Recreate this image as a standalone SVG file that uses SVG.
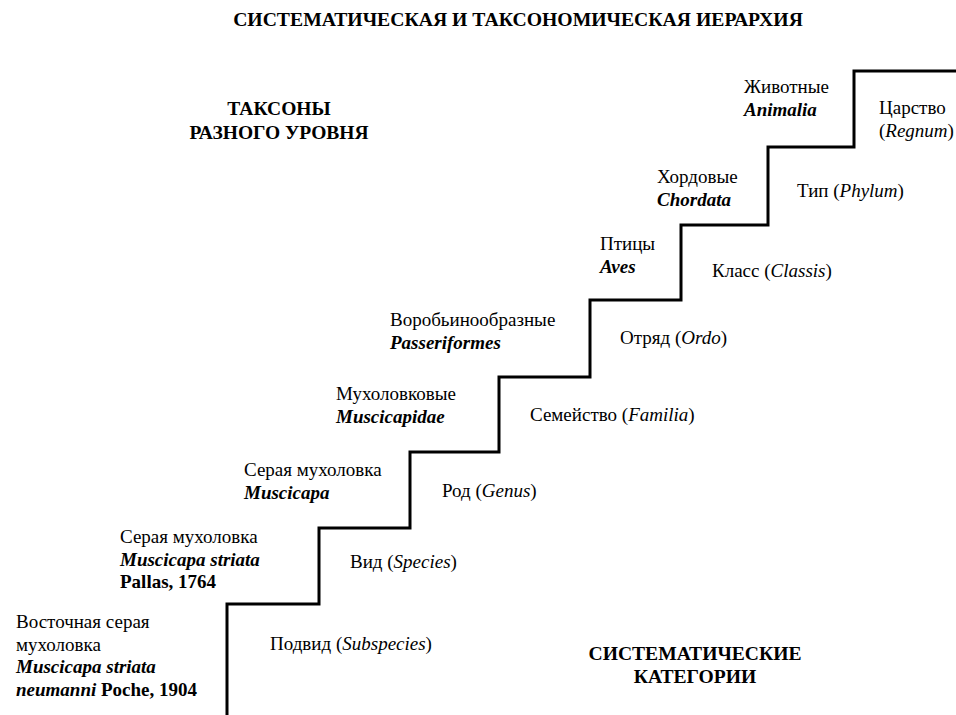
<svg xmlns="http://www.w3.org/2000/svg" width="956" height="715" viewBox="0 0 956 715">
<rect width="956" height="715" fill="#fff"/>
<g id="connectors">
<path d="M227,715 V604 H319 V528 H410 V452 H499 V377 H590 V300 H681 V225 H768 V147 H854 V71 H956" fill="none" stroke="#000" stroke-width="3"/>
</g>
<g id="title"><text font-family="Liberation Serif" font-size="19.7" font-weight="bold" text-anchor="middle" x="518" y="26">СИСТЕМАТИЧЕСКАЯ И ТАКСОНОМИЧЕСКАЯ ИЕРАРХИЯ</text></g>
<g id="taxa-heading"><text font-family="Liberation Serif" font-size="19.5" font-weight="bold" text-anchor="middle" x="279" y="115">ТАКСОНЫ</text><text font-family="Liberation Serif" font-size="19.5" font-weight="bold" text-anchor="middle" x="279" y="139">РАЗНОГО УРОВНЯ</text></g>
<g id="categories-heading"><text font-family="Liberation Serif" font-size="19.6" font-weight="bold" text-anchor="middle" x="695" y="660">СИСТЕМАТИЧЕСКИЕ</text><text font-family="Liberation Serif" font-size="19.6" font-weight="bold" text-anchor="middle" x="695" y="683">КАТЕГОРИИ</text></g>
<g id="animalia"><text font-family="Liberation Serif" font-size="19" x="744" y="93">Животные</text><text font-family="Liberation Serif" font-size="19" font-weight="bold" font-style="italic" x="744" y="116">Animalia</text></g>
<g id="regnum"><text font-family="Liberation Serif" font-size="19" x="879" y="114">Царство</text><text font-family="Liberation Serif" font-size="19" x="879" y="137">(<tspan font-style="italic">Regnum</tspan>)</text></g>
<g id="chordata"><text font-family="Liberation Serif" font-size="19" x="657" y="183">Хордовые</text><text font-family="Liberation Serif" font-size="19" font-weight="bold" font-style="italic" x="657" y="206">Chordata</text></g>
<g id="phylum"><text font-family="Liberation Serif" font-size="19" x="797" y="197">Тип (<tspan font-style="italic">Phylum</tspan>)</text></g>
<g id="aves"><text font-family="Liberation Serif" font-size="19" x="600" y="250">Птицы</text><text font-family="Liberation Serif" font-size="19" font-weight="bold" font-style="italic" x="600" y="273">Aves</text></g>
<g id="classis"><text font-family="Liberation Serif" font-size="19" x="712" y="277">Класс (<tspan font-style="italic">Classis</tspan>)</text></g>
<g id="passeriformes"><text font-family="Liberation Serif" font-size="19" x="390" y="326">Воробьинообразные</text><text font-family="Liberation Serif" font-size="19" font-weight="bold" font-style="italic" x="390" y="349">Passeriformes</text></g>
<g id="ordo"><text font-family="Liberation Serif" font-size="19" x="620" y="344">Отряд (<tspan font-style="italic">Ordo</tspan>)</text></g>
<g id="muscicapidae"><text font-family="Liberation Serif" font-size="19" x="336" y="400">Мухоловковые</text><text font-family="Liberation Serif" font-size="19" font-weight="bold" font-style="italic" x="336" y="423">Muscicapidae</text></g>
<g id="familia"><text font-family="Liberation Serif" font-size="19" x="530" y="421">Семейство (<tspan font-style="italic">Familia</tspan>)</text></g>
<g id="muscicapa"><text font-family="Liberation Serif" font-size="19" x="244" y="476">Серая мухоловка</text><text font-family="Liberation Serif" font-size="19" font-weight="bold" font-style="italic" x="244" y="499">Muscicapa</text></g>
<g id="genus"><text font-family="Liberation Serif" font-size="19" x="442" y="497">Род (<tspan font-style="italic">Genus</tspan>)</text></g>
<g id="striata"><text font-family="Liberation Serif" font-size="19" x="120" y="543">Серая мухоловка</text><text font-family="Liberation Serif" font-size="19" font-weight="bold" font-style="italic" x="120" y="566">Muscicapa striata</text><text font-family="Liberation Serif" font-size="19" font-weight="bold" x="120" y="588">Pallas, 1764</text></g>
<g id="species"><text font-family="Liberation Serif" font-size="19" x="350" y="568">Вид (<tspan font-style="italic">Species</tspan>)</text></g>
<g id="neumanni"><text font-family="Liberation Serif" font-size="19" x="16" y="628">Восточная серая</text><text font-family="Liberation Serif" font-size="19" x="16" y="651">мухоловка</text><text font-family="Liberation Serif" font-size="19" font-weight="bold" font-style="italic" x="16" y="673">Muscicapa striata</text><text font-family="Liberation Serif" font-size="19" x="16" y="696"><tspan font-weight="bold" font-style="italic">neumanni</tspan> <tspan font-weight="bold">Poche, 1904</tspan></text></g>
<g id="subspecies"><text font-family="Liberation Serif" font-size="19" x="270" y="650">Подвид (<tspan font-style="italic">Subspecies</tspan>)</text></g>
</svg>
